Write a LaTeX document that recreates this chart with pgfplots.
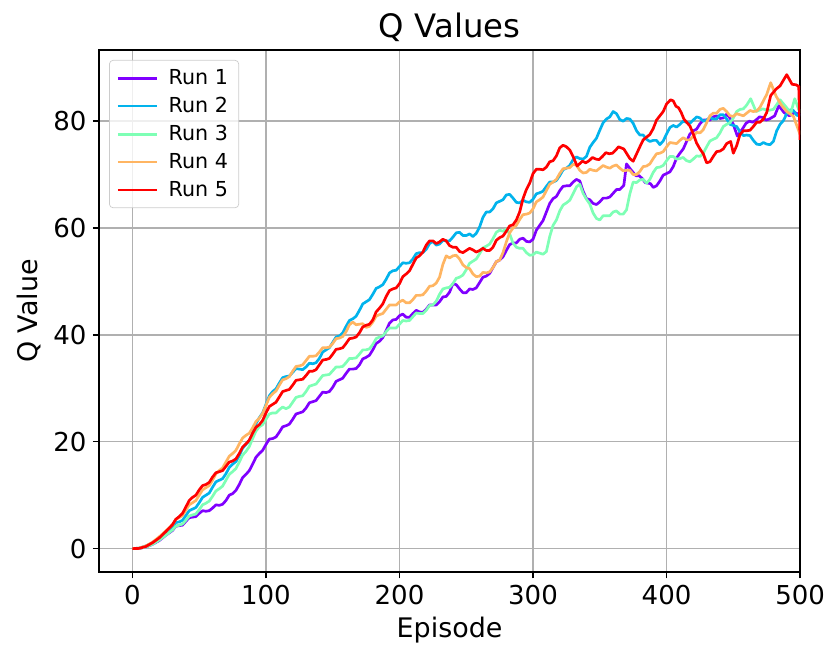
\documentclass[border=0pt]{standalone}
\usepackage{pgfplots}
\pgfplotsset{compat=1.18}
\usepackage{fontspec}
\setmainfont{DejaVu Sans}
\definecolor{run1}{RGB}{128,0,255}
\definecolor{run2}{RGB}{2,179,236}
\definecolor{run3}{RGB}{126,255,181}
\definecolor{run4}{RGB}{255,181,98}
\definecolor{run5}{RGB}{255,0,0}
\begin{document}
\begin{tikzpicture}
\useasboundingbox (-55.2pt,-41.2pt) rectangle (405.6pt,318.8pt);
\begin{axis}[name=ax, at={(0pt,0pt)}, anchor=south west,
  scale only axis, width=390.6pt, height=290.9pt,
  xmin=-25, xmax=500, ymin=-4.4, ymax=93.3,
  xtick={0,100,200,300,400,500}, ytick={0,20,40,60,80},
  grid=major, grid style={color=black!31, line width=0.8pt},
  axis line style={line width=0.8pt},
  tick style={black, line width=0.8pt}, tick align=outside, major tick length=3.5pt,
  xtick pos=bottom, ytick pos=left,
  /pgf/number format/assume math mode=true,
  ticklabel style={font=\fontsize{14.5}{17}\selectfont},
  xlabel={Episode}, ylabel={Q Value},
  label style={font=\fontsize{15}{18}\selectfont},
  title={Q Values}, title style={font=\fontsize{18}{21}\selectfont, yshift=-5pt},
  legend style={at={(0.0143,0.981)}, anchor=north west, font=\fontsize{11.5}{13.5}\selectfont,
    draw=black!20, rounded corners=2pt, fill=white, fill opacity=0.8, text opacity=1,
    row sep=1.6pt, inner xsep=4pt, inner ysep=3pt},
  legend cell align=left,
  legend image code/.code={\draw[#1, line width=1.5pt] (0pt,0pt) -- (22pt,0pt); \path (25.5pt,0pt);},
  every axis plot/.append style={line width=1.5pt, line join=round},
]
\addplot[run1] coordinates {
(0,0) (5,0.05) (10,0.3) (15,0.8) (20,1.5) (25,2.5) (30,3.4) (32.5,4.2) (35,4.3) (37.5,4.4) (40,5.1) (42.5,5.8) (45,5.9) (47.5,6.0) (50,6.6) (52.5,7.1) (55,7.0) (57.5,7.1) (60,7.6) (62.5,8.2) (65,8.1) (67.5,8.3) (70,9.0) (72.5,10.0) (75,10.3) (77.5,10.9) (80,12.0) (82.5,13.3) (85,13.9) (87.5,14.6) (90,15.8) (92.5,17.1) (95,17.8) (97.5,18.4) (100,19.5) (102.5,20.5) (105,20.6) (107.5,20.9) (110,21.8) (112.5,22.8) (115,23.0) (117.5,23.3) (120,24.2) (122.5,25.2) (125,25.4) (127.5,25.6) (130,26.3) (132.5,27.3) (135,27.5) (137.5,27.7) (140,28.5) (142.5,29.3) (145,29.2) (147.5,29.4) (150,30.2) (152.5,31.3) (155,31.6) (157.5,31.9) (160,32.8) (162.5,33.6) (165,33.6) (167.5,33.7) (170,34.4) (172.5,35.5) (175,35.8) (177.5,36.2) (180,37.2) (182.5,38.4) (185,38.8) (187.5,39.5) (190,40.8) (192.5,42.2) (195,42.8) (197.5,42.9) (200,43.6) (202.5,43.9) (205,43.3) (207.5,43.3) (210,44.0) (212.5,44.6) (215,44.3) (217.5,44.2) (220,44.8) (222.5,45.6) (225,45.6) (227.5,45.6) (230,46.2) (232.5,47.1) (235,47.2) (237.5,48.0) (240,49.6) (242.5,49.4) (245,48.6) (247.5,47.9) (250,47.9) (252.5,48.6) (255,48.5) (257.5,48.8) (260,49.8) (262.5,50.8) (265,51.0) (267.5,51.5) (270,52.6) (272.5,53.7) (275,54.0) (277.5,54.6) (280,55.8) (282.5,56.9) (285,57.2) (287.5,57.2) (290,57.9) (292.5,58.1) (295,57.5) (297.5,57.4) (300,57.9) (302.5,59.6) (305,60.5) (307.5,61.4) (310,63.0) (312.5,64.6) (315,65.5) (317.5,65.9) (320,67.0) (322.5,67.8) (325,67.9) (327.5,67.9) (330,68.6) (332.5,69.1) (335,68.8) (337.5,66.9) (340,65.5) (342.5,65.3) (345,64.6) (347.5,64.4) (350,64.9) (352.5,65.6) (355,65.6) (357.5,65.8) (360,66.5) (362.5,67.2) (365,67.2) (368,68.0) (370,72.0) (373,71.0) (377,69.8) (379.5,69.8) (382,69.2) (384,68.5) (386,68.4) (388,68.3) (390,67.6) (392.5,67.9) (395,68.8) (397.5,69.9) (400,70.2) (402.5,70.5) (405,71.5) (407.5,73.1) (410,74.0) (412.5,74.8) (415,76.2) (417.5,77.6) (420,78.2) (422.5,78.5) (425,79.5) (427.5,80.2) (430,80.2) (432.5,80.2) (435,80.8) (437.5,81.0) (440,80.5) (442.5,80.6) (445,81.3) (447.5,80.6) (450,79.4) (453,77.2) (457,78.6) (459.5,79.6) (462,80.0) (464.5,79.8) (467,80.2) (469.5,80.8) (472,80.7) (474.5,80.2) (477,80.4) (481,81.0) (484,82.9) (488,81.6) (492,81.0) (496,81.6) (500,81.2)
};
\addlegendentry{Run 1}
\addplot[run2] coordinates {
(0,0) (5,0.1) (10,0.5) (15,1.1) (20,2.0) (25,3.0) (30,4.1) (32.5,4.9) (35,5.0) (37.5,5.3) (40,6.2) (42.5,7.1) (45,7.4) (47.5,7.7) (50,8.6) (52.5,9.6) (55,10.0) (57.5,10.4) (60,11.5) (62.5,12.5) (65,12.8) (67.5,13.1) (70,14.0) (72.5,15.2) (75,15.8) (77.5,16.3) (80,17.4) (82.5,18.8) (85,19.5) (87.5,20.2) (90,21.6) (92.5,23.4) (95,24.5) (97.5,25.4) (100,27.0) (102.5,28.6) (105,29.4) (107.5,29.9) (110,31.0) (112.5,32.0) (115,32.2) (117.5,32.3) (120,33.0) (122.5,33.7) (125,33.6) (127.5,33.5) (130,34.0) (132.5,34.7) (135,34.6) (137.5,34.8) (140,35.6) (142.5,36.8) (145,37.2) (147.5,37.6) (150,38.6) (152.5,39.6) (155,39.8) (157.5,40.4) (160,41.6) (162.5,42.7) (165,43.0) (167.5,43.5) (170,44.6) (172.5,45.8) (175,46.2) (177.5,46.6) (180,47.6) (182.5,48.7) (185,49.0) (187.5,49.4) (190,50.4) (192.5,51.6) (195,52.0) (197.5,52.1) (200,52.8) (202.5,53.5) (205,53.4) (207.5,53.5) (210,54.2) (212.5,55.2) (215,55.4) (217.5,55.4) (220,56.0) (222.5,57.1) (225,57.5) (227.5,56.8) (230,57.0) (232.5,57.7) (235,57.6) (237.5,57.6) (240,58.3) (242.5,59.1) (245,59.2) (247.5,58.6) (250,58.6) (252.5,58.9) (255,58.4) (257.5,59.0) (260,60.2) (262.5,62.0) (265,63.0) (267.5,63.0) (270,63.6) (272.5,64.7) (275,65.0) (277.5,65.3) (280,66.2) (282.5,66.3) (285,65.6) (287.5,64.8) (290,64.7) (292.5,65.2) (295,64.9) (297.5,64.8) (300,65.4) (302.5,66.4) (305,66.6) (307.5,66.9) (310,67.8) (312.5,68.6) (315,68.6) (317.5,68.9) (320,69.8) (322.5,70.9) (325,71.2) (327.5,71.7) (330,72.8) (332.5,73.3) (335,73.0) (337.5,72.9) (340,73.4) (342.5,75.1) (345,76.0) (347.5,76.8) (350,78.3) (352.5,79.7) (355,80.4) (357.5,80.8) (360,81.8) (362.5,81.4) (365,80.3) (367.5,80.0) (370,80.5) (372.5,80.4) (375,79.6) (377.5,78.2) (380,77.4) (382.5,77.4) (385,76.6) (387.5,76.2) (390,76.4) (392.5,76.4) (395,75.6) (397.5,76.3) (400,77.6) (402.5,78.8) (405,79.2) (407.5,78.9) (410,79.4) (412.5,80.0) (415,79.8) (417.5,79.6) (420,80.2) (422.5,80.8) (425,80.6) (427.5,80.0) (430,80.2) (432.5,80.7) (435,80.4) (437.5,80.4) (440,81.2) (442.5,81.2) (445,80.4) (447.5,79.4) (450,79.2) (452.5,79.0) (455,78.0) (457.5,77.3) (460,77.4) (462.5,77.3) (465,76.4) (467.5,75.7) (470,75.6) (472.5,76.0) (475,75.7) (477.5,75.6) (480,76.2) (482.5,78.2) (485,79.4) (487.5,80.1) (490,81.4) (492.5,82.1) (495,82.0) (497.5,81.1) (500,81.0)
};
\addlegendentry{Run 2}
\addplot[run3] coordinates {
(0,0) (5,0.05) (10,0.3) (15,0.8) (20,1.6) (25,2.5) (30,3.5) (32.5,4.2) (35,4.4) (37.5,4.6) (40,5.3) (42.5,6.1) (45,6.3) (47.5,6.5) (50,7.3) (52.5,8.2) (55,8.5) (57.5,8.9) (60,9.8) (62.5,10.8) (65,11.2) (67.5,11.7) (70,12.8) (72.5,13.9) (75,14.4) (77.5,15.0) (80,16.2) (82.5,17.5) (85,18.2) (87.5,19.1) (90,20.6) (92.5,22.0) (95,22.8) (97.5,23.2) (100,24.2) (102.5,25.2) (105,25.4) (107.5,25.4) (110,26.0) (112.5,26.5) (115,26.2) (117.5,26.5) (120,27.4) (122.5,28.3) (125,28.5) (127.5,28.6) (130,29.4) (132.5,30.4) (135,30.6) (137.5,30.8) (140,31.6) (142.5,32.4) (145,32.5) (147.5,32.6) (150,33.3) (152.5,34.0) (155,34.0) (157.5,34.1) (160,34.8) (162.5,35.6) (165,35.6) (167.5,35.7) (170,36.4) (172.5,37.2) (175,37.2) (177.5,37.4) (180,38.2) (182.5,39.3) (185,39.6) (187.5,39.8) (190,40.6) (192.5,41.3) (195,41.3) (197.5,41.3) (200,42.0) (202.5,42.7) (205,42.6) (207.5,42.7) (210,43.4) (212.5,44.1) (215,44.0) (217.5,44.0) (220,44.6) (222.5,45.5) (225,45.6) (227.5,46.3) (230,47.6) (232.5,48.6) (235,48.8) (237.5,48.9) (240,49.6) (242.5,50.6) (245,50.8) (247.5,51.2) (250,52.2) (252.5,53.4) (255,53.8) (257.5,54.2) (260,55.2) (262.5,56.3) (265,56.6) (267.5,57.0) (270,58.0) (272.5,59.2) (275,59.6) (277.5,59.4) (280,59.8) (282.5,58.9) (285,57.2) (287.5,56.4) (290,56.2) (292.5,56.2) (295,55.4) (297.5,54.9) (300,55.0) (302.5,55.5) (305,55.3) (307.5,55.1) (310,55.6) (312.5,58.4) (315,60.5) (317.5,61.5) (320,63.2) (322.5,64.3) (325,64.7) (327.5,65.2) (330,66.4) (332.5,67.7) (335,68.2) (337.5,66.5) (340,65.4) (342.5,64.5) (345,62.8) (347.5,61.8) (350,61.5) (352.5,62.3) (355,62.3) (357.5,62.3) (360,63.0) (362.5,63.2) (365,62.6) (367.5,62.6) (370,63.4) (372.5,66.4) (375,68.6) (377.5,68.5) (380,69.0) (382.5,69.1) (385,68.4) (387.5,69.1) (390,70.4) (392.5,71.3) (395,71.4) (397.5,71.7) (400,72.6) (402.5,73.4) (405,73.4) (407.5,72.9) (410,73.0) (412.5,73.2) (415,72.6) (417.5,72.4) (420,72.9) (422.5,73.5) (425,73.4) (427.5,74.0) (430,75.2) (432.5,76.3) (435,76.6) (437.5,76.9) (440,77.8) (442.5,79.0) (445,79.4) (447.5,79.7) (450,80.6) (452.5,81.8) (455,82.2) (457.5,82.3) (460,83.0) (463,84.2) (467,81.8) (472,82.3) (476,82.0) (480,82.2) (485,84.0) (490,82.5) (493,81.5) (496,84.2) (500,81.5)
};
\addlegendentry{Run 3}
\addplot[run4] coordinates {
(0,0) (5,0.1) (10,0.5) (15,1.2) (20,2.2) (25,3.3) (30,4.5) (32.5,5.5) (35,5.8) (37.5,6.2) (40,7.2) (42.5,8.2) (45,8.6) (47.5,9.0) (50,10.0) (52.5,11.0) (55,11.4) (57.5,11.8) (60,12.8) (62.5,14.0) (65,14.6) (67.5,15.1) (70,16.2) (72.5,17.3) (75,17.8) (77.5,18.4) (80,19.6) (82.5,20.7) (85,21.2) (87.5,21.6) (90,22.6) (92.5,23.8) (95,24.4) (97.5,25.3) (100,26.8) (102.5,28.3) (105,29.0) (107.5,29.5) (110,30.6) (112.5,31.6) (115,31.8) (117.5,32.2) (120,33.2) (122.5,34.1) (125,34.2) (127.5,34.4) (130,35.2) (132.5,36.0) (135,36.0) (137.5,36.1) (140,36.8) (142.5,37.6) (145,37.6) (147.5,37.7) (150,38.4) (152.5,39.3) (155,39.4) (157.5,39.7) (160,40.6) (162.5,41.9) (165,42.4) (167.5,41.9) (170,42.0) (172.5,42.1) (175,41.4) (177.5,41.6) (180,42.4) (182.5,43.5) (185,43.8) (187.5,44.0) (190,44.8) (192.5,45.6) (195,45.6) (197.5,45.6) (200,46.2) (202.5,46.5) (205,46.0) (207.5,46.0) (210,46.6) (212.5,47.4) (215,47.4) (217.5,47.5) (220,48.2) (222.5,49.1) (225,49.2) (227.5,49.7) (230,50.8) (232.5,53.2) (235,54.8) (237.5,54.4) (240,54.8) (242.5,54.9) (245,54.2) (247.5,53.1) (250,52.6) (252.5,52.4) (255,51.4) (257.5,50.9) (260,51.0) (262.5,51.7) (265,51.6) (267.5,51.8) (270,52.6) (272.5,53.7) (275,54.0) (277.5,55.4) (280,57.4) (282.5,59.1) (285,60.0) (287.5,60.5) (290,61.6) (292.5,62.5) (295,62.6) (297.5,62.8) (300,63.6) (302.5,64.9) (305,65.3) (307.5,65.8) (310,67.0) (312.5,68.2) (315,68.6) (317.5,69.1) (320,70.2) (322.5,71.1) (325,71.2) (327.5,71.3) (330,71.9) (332.5,71.8) (335,70.8) (337.5,70.3) (340,70.4) (342.5,71.0) (345,70.8) (347.5,70.7) (350,71.2) (352.5,71.7) (355,71.4) (357.5,71.2) (360,71.6) (362.5,71.8) (365,71.2) (367.5,70.7) (370,70.8) (372.5,70.8) (375,70.0) (377.5,70.0) (380,70.6) (382.5,71.5) (385,71.6) (387.5,72.0) (390,73.0) (392.5,73.9) (395,74.0) (397.5,74.3) (400,75.2) (402.5,76.0) (405,75.9) (407.5,75.8) (410,76.4) (412.5,76.9) (415,76.5) (417.5,76.5) (420,77.2) (422.5,77.9) (425,77.8) (427.5,78.4) (430,79.7) (432.5,81.0) (435,81.5) (437.5,81.5) (440,82.2) (442.5,82.4) (445,81.8) (447.5,81.0) (450,80.9) (452.5,81.4) (455,81.2) (457.5,81.0) (460,81.5) (462.5,82.0) (465,81.8) (467.5,81.9) (470,82.6) (475,85.0) (478,87.2) (482,84.7) (486,83.0) (490,81.8) (495,80.9) (500,77.5)
};
\addlegendentry{Run 4}
\addplot[run5] coordinates {
(0,0) (5,0.05) (10,0.4) (15,1.1) (20,2.0) (25,3.2) (30,4.5) (32.5,5.5) (35,6.0) (37.5,6.6) (40,7.8) (42.5,9.0) (45,9.6) (47.5,10.0) (50,11.0) (52.5,11.8) (55,12.0) (57.5,12.4) (60,13.4) (62.5,14.2) (65,14.4) (67.5,14.6) (70,15.4) (72.5,16.2) (75,16.4) (77.5,16.8) (80,17.8) (82.5,19.0) (85,19.6) (87.5,20.3) (90,21.6) (92.5,22.7) (95,23.2) (97.5,24.0) (100,25.4) (102.5,26.6) (105,27.0) (107.5,27.4) (110,28.4) (112.5,29.4) (115,29.6) (117.5,29.8) (120,30.6) (122.5,31.5) (125,31.6) (127.5,31.7) (130,32.4) (132.5,33.2) (135,33.2) (137.5,33.5) (140,34.4) (142.5,35.3) (145,35.4) (147.5,35.6) (150,36.4) (152.5,37.3) (155,37.4) (157.5,37.6) (160,38.4) (162.5,39.3) (165,39.4) (167.5,39.6) (170,40.4) (172.5,41.5) (175,41.8) (177.5,42.0) (180,42.8) (182.5,44.3) (185,45.0) (187.5,45.8) (190,47.2) (192.5,48.3) (195,48.6) (197.5,48.8) (200,49.6) (202.5,50.9) (205,51.4) (207.5,52.0) (210,53.2) (212.5,54.4) (215,54.8) (217.5,55.5) (220,56.8) (222.5,57.6) (225,57.6) (227.5,57.1) (230,57.4) (232.5,57.9) (235,57.6) (237.5,56.7) (240,56.4) (242.5,56.4) (245,55.6) (247.5,55.4) (250,55.8) (252.5,56.2) (255,55.9) (257.5,55.5) (260,55.8) (262.5,56.2) (265,55.8) (267.5,55.8) (270,56.4) (272.5,57.7) (275,58.2) (277.5,58.5) (280,59.4) (282.5,60.4) (285,60.6) (287.5,61.5) (290,63.0) (292.5,65.5) (295,67.2) (297.5,68.4) (300,70.2) (302.5,71.0) (305,71.0) (307.5,70.9) (310,71.4) (312.5,72.4) (315,72.6) (317.5,73.5) (320,75.0) (322.5,75.5) (325,75.2) (327.5,74.6) (330,73.4) (333,71.6) (337,72.5) (339.5,72.2) (342,72.6) (344.5,73.2) (347,72.9) (349.5,72.8) (352,73.4) (354.5,74.1) (357,73.9) (359.5,74.0) (362,74.6) (364,75.2) (366,75.0) (368,74.8) (370,74.0) (372.5,73.0) (375,72.5) (380,75.2) (382.5,76.5) (385,77.0) (387.5,77.5) (390,78.6) (392.5,80.2) (395,81.0) (397.5,81.8) (400,83.2) (403,84.0) (405,83.8) (407,82.8) (409,82.5) (411,81.6) (413,80.4) (415,79.8) (417.5,79.1) (420,77.6) (422.5,75.9) (425,74.8) (427.5,73.9) (430,72.2) (432.5,72.4) (435,73.4) (437.5,74.3) (440,74.4) (442.5,74.8) (445,75.8) (448,76.2) (450,74.0) (452.5,75.4) (455,77.5) (457.5,78.2) (460,78.2) (462.5,78.3) (465,79.0) (467.5,79.8) (470,79.8) (472.5,80.4) (475,81.6) (478,84.8) (482,86.0) (485,86.6) (490,88.7) (494,86.9) (497,86.8) (499,86.5) (500,76.5)
};
\addlegendentry{Run 5}
\end{axis}
\end{tikzpicture}
\end{document}
